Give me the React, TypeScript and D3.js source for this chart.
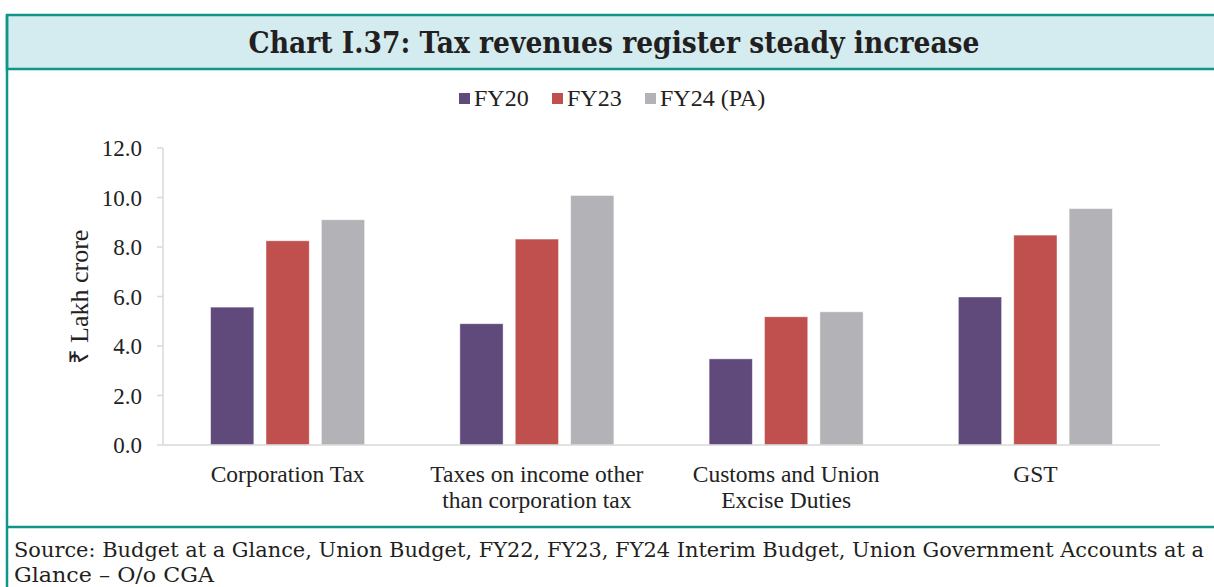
import React from "react";
import * as d3 from "d3";

const categories = ["Corporation Tax", "Taxes on income other than corporation tax", "Customs and Union Excise Duties", "GST"];
const categoryLines = [["Corporation Tax"], ["Taxes on income other", "than corporation tax"], ["Customs and Union", "Excise Duties"], ["GST"]];
const seriesNames = ["FY20", "FY23", "FY24 (PA)"];
const fy20 = [5.57, 4.9, 3.48, 5.98];
const fy23 = [8.25, 8.32, 5.18, 8.48];
const fy24 = [9.1, 10.08, 5.38, 9.55];
const yTicks = [0, 2, 4, 6, 8, 10, 12];

const colors = ["#604a7b", "#c0504d", "#b3b3b7"];
const teal = "#0e968a";

const W = 1214;
const H = 587;
const margin = { top: 148, right: 54, bottom: 142, left: 163 };

export default function App() {
  const series = [fy20, fy23, fy24];
  const x = d3.scaleBand<string>().domain(categories).range([margin.left, W - margin.right]);
  const inner = d3
    .scaleBand<string>()
    .domain(seriesNames)
    .range([0, x.bandwidth()])
    .paddingInner(0.22)
    .paddingOuter(0.86);
  const y = d3.scaleLinear().domain([0, 12]).range([H - margin.bottom, margin.top]);
  const fmt = d3.format(".1f");
  const serif = "Liberation Serif, Times New Roman, serif";
  const georgia = "DejaVu Serif, Georgia, serif";
  const y0 = y(0);

  return (
    <div style={{ position: "absolute", left: 0, top: 0 }}>
      <svg width={W} height={H} style={{ display: "block", background: "#fff" }}>
        {/* frame */}
        <rect x={7} y={15} width={W + 10} height={54} fill="#d4ecf0" stroke={teal} strokeWidth={2.5} />
        <line x1={7} x2={7} y1={15} y2={H} stroke={teal} strokeWidth={2.5} />
        <line x1={7} x2={W} y1={527} y2={527} stroke={teal} strokeWidth={2.5} />
        <text
          x={614}
          y={53}
          textAnchor="middle"
          fontFamily={georgia}
          fontWeight="bold"
          fontSize={30}
          fill="#231f20"
          textLength={731}
          lengthAdjust="spacingAndGlyphs"
        >
          Chart I.37: Tax revenues register steady increase
        </text>

        {/* legend */}
        {seriesNames.map((s, i) => (
          <g key={s} transform={`translate(${459 + i * 93},93)`}>
            <rect width={11} height={11} fill={colors[i]} />
            <text x={15} y={13} fontFamily={serif} fontSize={24} fill="#222">
              {s}
            </text>
          </g>
        ))}

        {/* y axis */}
        <line x1={margin.left} x2={margin.left} y1={y(12)} y2={y0} stroke="#d9d9d9" strokeWidth={1.5} />
        {yTicks.map((t) => (
          <g key={t}>
            <line x1={margin.left - 6} x2={margin.left} y1={y(t)} y2={y(t)} stroke="#d9d9d9" strokeWidth={1.5} />
            <text x={142} y={y(t) + 8} textAnchor="end" fontFamily={serif} fontSize={23} fill="#222">
              {fmt(t)}
            </text>
          </g>
        ))}
        <text
          transform={`translate(88,297) rotate(-90)`}
          textAnchor="middle"
          fontFamily={serif}
          fontSize={26}
          fill="#222"
        >
          ₹ Lakh crore
        </text>

        {/* bars */}
        {categories.map((c, ci) => (
          <g key={c} transform={`translate(${x(c)},0)`}>
            {series.map((vals, si) => (
              <rect
                key={si}
                x={inner(seriesNames[si])}
                y={y(vals[ci])}
                width={inner.bandwidth()}
                height={y0 - y(vals[ci])}
                fill={colors[si]}
                stroke="#ffffff"
                strokeOpacity={0.5}
                strokeWidth={0.8}
              />
            ))}
          </g>
        ))}

        {/* x axis */}
        <line x1={margin.left} x2={W - margin.right} y1={y0} y2={y0} stroke="#d9d9d9" strokeWidth={1.5} />
        {categories.map((c, ci) => (
          <text
            key={c}
            x={(x(c) as number) + x.bandwidth() / 2}
            textAnchor="middle"
            fontFamily={serif}
            fontSize={23.5}
            fill="#222"
          >
            {categoryLines[ci].map((ln, li) => (
              <tspan key={li} x={(x(c) as number) + x.bandwidth() / 2} y={482 + li * 26}>
                {ln}
              </tspan>
            ))}
          </text>
        ))}

        {/* source */}
        <text x={14} y={557} fontFamily={georgia} fontSize={21} fill="#231f20" textLength={1190} lengthAdjust="spacingAndGlyphs">
          Source: Budget at a Glance, Union Budget, FY22, FY23, FY24 Interim Budget, Union Government Accounts at a
        </text>
        <text x={14} y={582} fontFamily={georgia} fontSize={21} fill="#231f20" textLength={200} lengthAdjust="spacingAndGlyphs">
          Glance – O/o CGA
        </text>
      </svg>
    </div>
  );
}
